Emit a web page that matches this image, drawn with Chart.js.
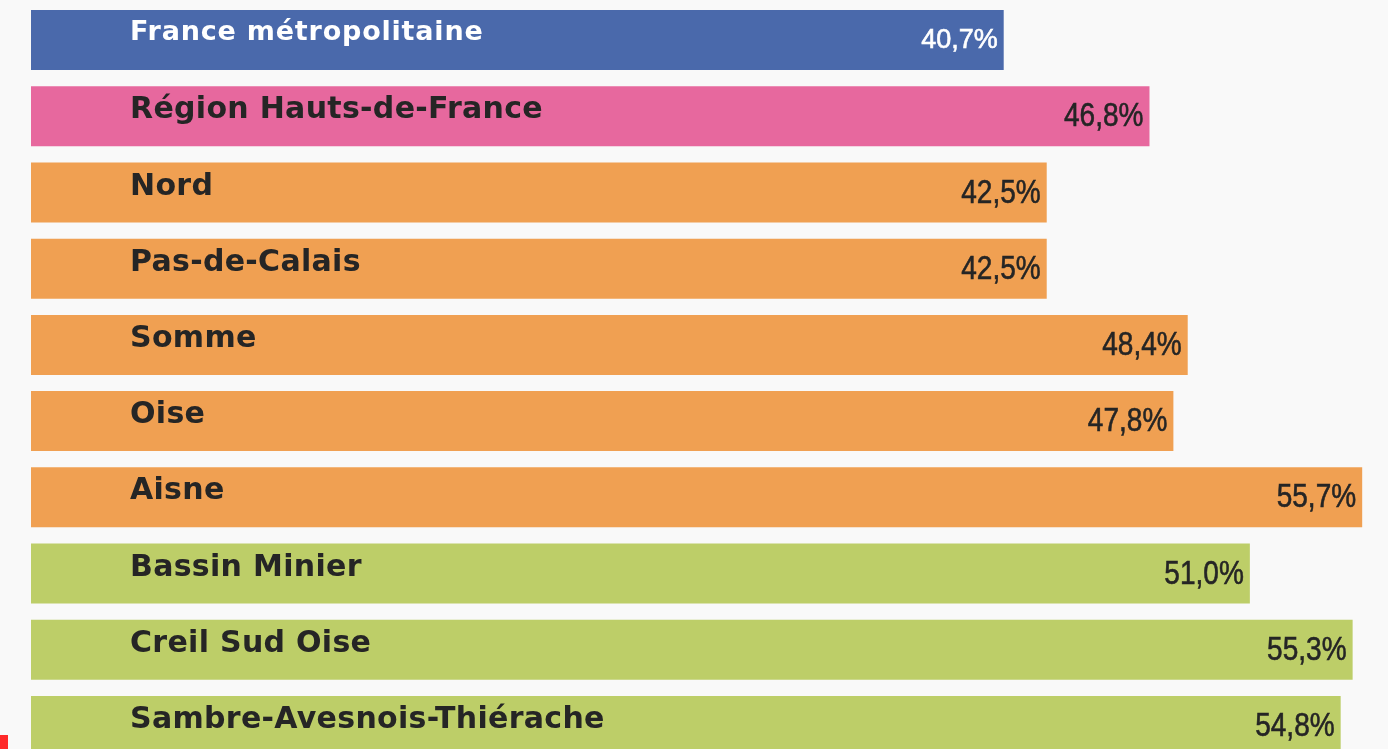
<!DOCTYPE html>
<html>
<head>
<meta charset="utf-8">
<script src="https://cdn.jsdelivr.net/npm/chart.js@4/dist/chart.umd.min.js"></script>
<style>
  html, body { margin: 0; padding: 0; background: #f9f9f9; overflow: hidden; }
  #wrap { position: relative; width: 1388px; height: 764px; }
  #mark { position: absolute; left: 0; top: 735px; width: 8px; height: 14px; background: #ff2a2a; }
</style>
</head>
<body>
<div id="wrap"><canvas id="c"></canvas></div>
<div id="mark"></div>
<script>
const categories = [
  "France métropolitaine",
  "Région Hauts-de-France",
  "Nord",
  "Pas-de-Calais",
  "Somme",
  "Oise",
  "Aisne",
  "Bassin Minier",
  "Creil Sud Oise",
  "Sambre-Avesnois-Thiérache"
];
const values = [40.7, 46.8, 42.5, 42.5, 48.4, 47.8, 55.7, 51.0, 55.3, 54.8];
const barColors = ["#4a69ab", "#e7689e", "#f0a052", "#f0a052", "#f0a052", "#f0a052", "#f0a052", "#bdce68", "#bdce68", "#bdce68"];
const textColors = ["#ffffff", "#252525", "#252525", "#252525", "#252525", "#252525", "#252525", "#252525", "#252525", "#252525"];

const fmt = v => v.toFixed(1).replace('.', ',') + '%';

const labelPlugin = {
  id: 'labels',
  afterDatasetsDraw(chart) {
    const ctx = chart.ctx;
    const meta = chart.getDatasetMeta(0);
    meta.data.forEach((bar, i) => {
      const top = bar.y - bar.height / 2;
      const first = i === 0;
      // category label
      ctx.save();
      ctx.font = 'bold ' + (first ? 27 : 30) + 'px "DejaVu Sans", sans-serif';
      if ('letterSpacing' in ctx) ctx.letterSpacing = first ? '0.8px' : '0.3px';
      ctx.fillStyle = textColors[i];
      ctx.textAlign = 'left';
      ctx.textBaseline = 'alphabetic';
      ctx.fillText(categories[i], bar.base + 99, top + (first ? 30 : 32));
      ctx.restore();
      // value label (narrow)
      ctx.save();
      ctx.fillStyle = textColors[i];
      ctx.strokeStyle = textColors[i];
      ctx.lineWidth = 0.6;
      ctx.font = (first ? 27 : 33) + 'px "Liberation Sans", Arial, sans-serif';
      ctx.textAlign = 'right';
      ctx.textBaseline = 'alphabetic';
      ctx.translate(bar.x - 6, top + (first ? 38 : 40));
      ctx.scale(first ? 1 : 0.85, 1);
      ctx.fillText(fmt(values[i]), 0, 0);
      ctx.strokeText(fmt(values[i]), 0, 0);
      ctx.restore();
    });
  }
};

new Chart(document.getElementById('c'), {
  type: 'bar',
  data: {
    labels: categories,
    datasets: [{
      data: values,
      backgroundColor: barColors,
      borderWidth: 0,
      barPercentage: 0.787,
      categoryPercentage: 1
    }]
  },
  options: {
    indexAxis: 'y',
    responsive: true,
    maintainAspectRatio: false,
    animation: false,
    layout: { padding: { left: 31, right: 0, top: 2, bottom: 0 } },
    plugins: { legend: { display: false }, tooltip: { enabled: false } },
    scales: {
      x: { display: false, min: 0, max: 56.78 },
      y: { display: false }
    }
  },
  plugins: [labelPlugin]
});
</script>
</body>
</html>
